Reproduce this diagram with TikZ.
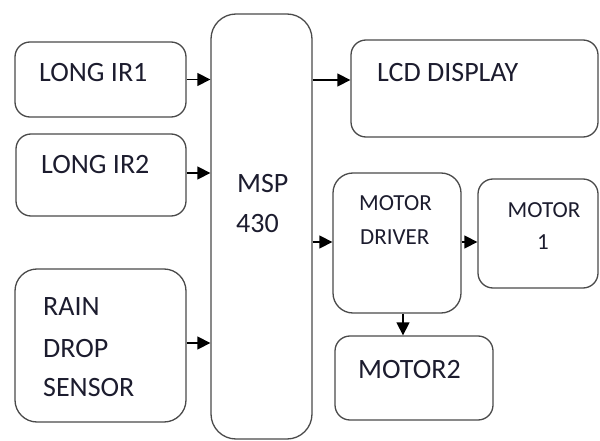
\documentclass[tikz,border=0pt]{standalone}
\usepackage{fontspec}
\setmainfont{Carlito}
\usetikzlibrary{arrows.meta}
\definecolor{edge}{HTML}{4A4A4A}
\definecolor{ink}{HTML}{1C1C2E}
\begin{document}
\begin{tikzpicture}[x=1pt,y=-1pt,
  blk/.style={draw=edge,line width=1.3pt,rounded corners=#1,inner sep=0pt,fill=none},
  blk/.default=15pt,
  big/.style={font=\fontsize{28}{28}\selectfont,text=ink,anchor=base west,inner sep=0pt},
  small/.style={font=\fontsize{23}{23}\selectfont,text=ink,inner sep=0pt},
  arr/.style={draw=black,line width=1.3pt,-{Triangle[length=13pt,width=13pt]}}]
\useasboundingbox (0,0) rectangle (600,441);
% boxes
\node[blk,minimum width=171pt,minimum height=75pt] (ir1) at (100.5,79.5) {};
\node[blk,minimum width=170pt,minimum height=82pt] (ir2) at (101,175) {};
\node[blk=22pt,minimum width=171pt,minimum height=153pt] (rain) at (100.5,345.5) {};
\node[blk=25pt,minimum width=101pt,minimum height=425pt] (msp) at (261.5,226.5) {};
\node[blk,minimum width=247pt,minimum height=97pt] (lcd) at (474.5,88.5) {};
\node[blk=20pt,minimum width=128pt,minimum height=140pt] (md) at (397,243) {};
\node[blk,minimum width=120pt,minimum height=109pt] (m1) at (538,233.5) {};
\node[blk,minimum width=158pt,minimum height=84pt] (m2) at (414,378) {};
% texts
\node[big] (t1) at (39,82) {LONG IR1};
\node[big] (t2) at (41,174) {LONG IR2};
\node[big] (t3) at (43,315) {RAIN};
\node[big] (t4) at (43,357) {DROP};
\node[big] (t5) at (43,396) {SENSOR};
\node[big] (t6) at (237,193) {MSP};
\node[big] (t7) at (236,233) {430};
\node[big] (t8) at (377,82) {LCD DISPLAY};
\node[small,anchor=base west] (t9) at (359,211) {MOTOR};
\node[small,anchor=base west] (t10) at (360,244) {DRIVER};
\node[small,anchor=base] (t11) at (544,217) {MOTOR};
\node[small,anchor=base] (t12) at (543,249) {1};
\node[big] (t13) at (358,378) {MOTOR2};
% connectors
\path (lcd.west) ++(0,-8.5) coordinate (lcdin);
\coordinate (mdout) at ([xshift=6pt]md.south);
\draw[arr] (ir1.east) -- (ir1.east -| msp.west);
\draw[arr] ([yshift=2pt]ir2.east) -- ([yshift=2pt]ir2.east -| msp.west);
\draw[arr] ([yshift=2.5pt]rain.east) -- ([yshift=2.5pt]rain.east -| msp.west);
\draw[arr] (msp.east |- lcdin) -- (lcdin);
\draw[arr] ([yshift=1pt]msp.east |- md.west) -- ([yshift=1pt]md.west);
\draw[arr] ([yshift=1pt]md.east) -- ([yshift=1pt]md.east -| m1.west);
\draw[arr] (mdout) -- (mdout |- m2.north);
\end{tikzpicture}
\end{document}
